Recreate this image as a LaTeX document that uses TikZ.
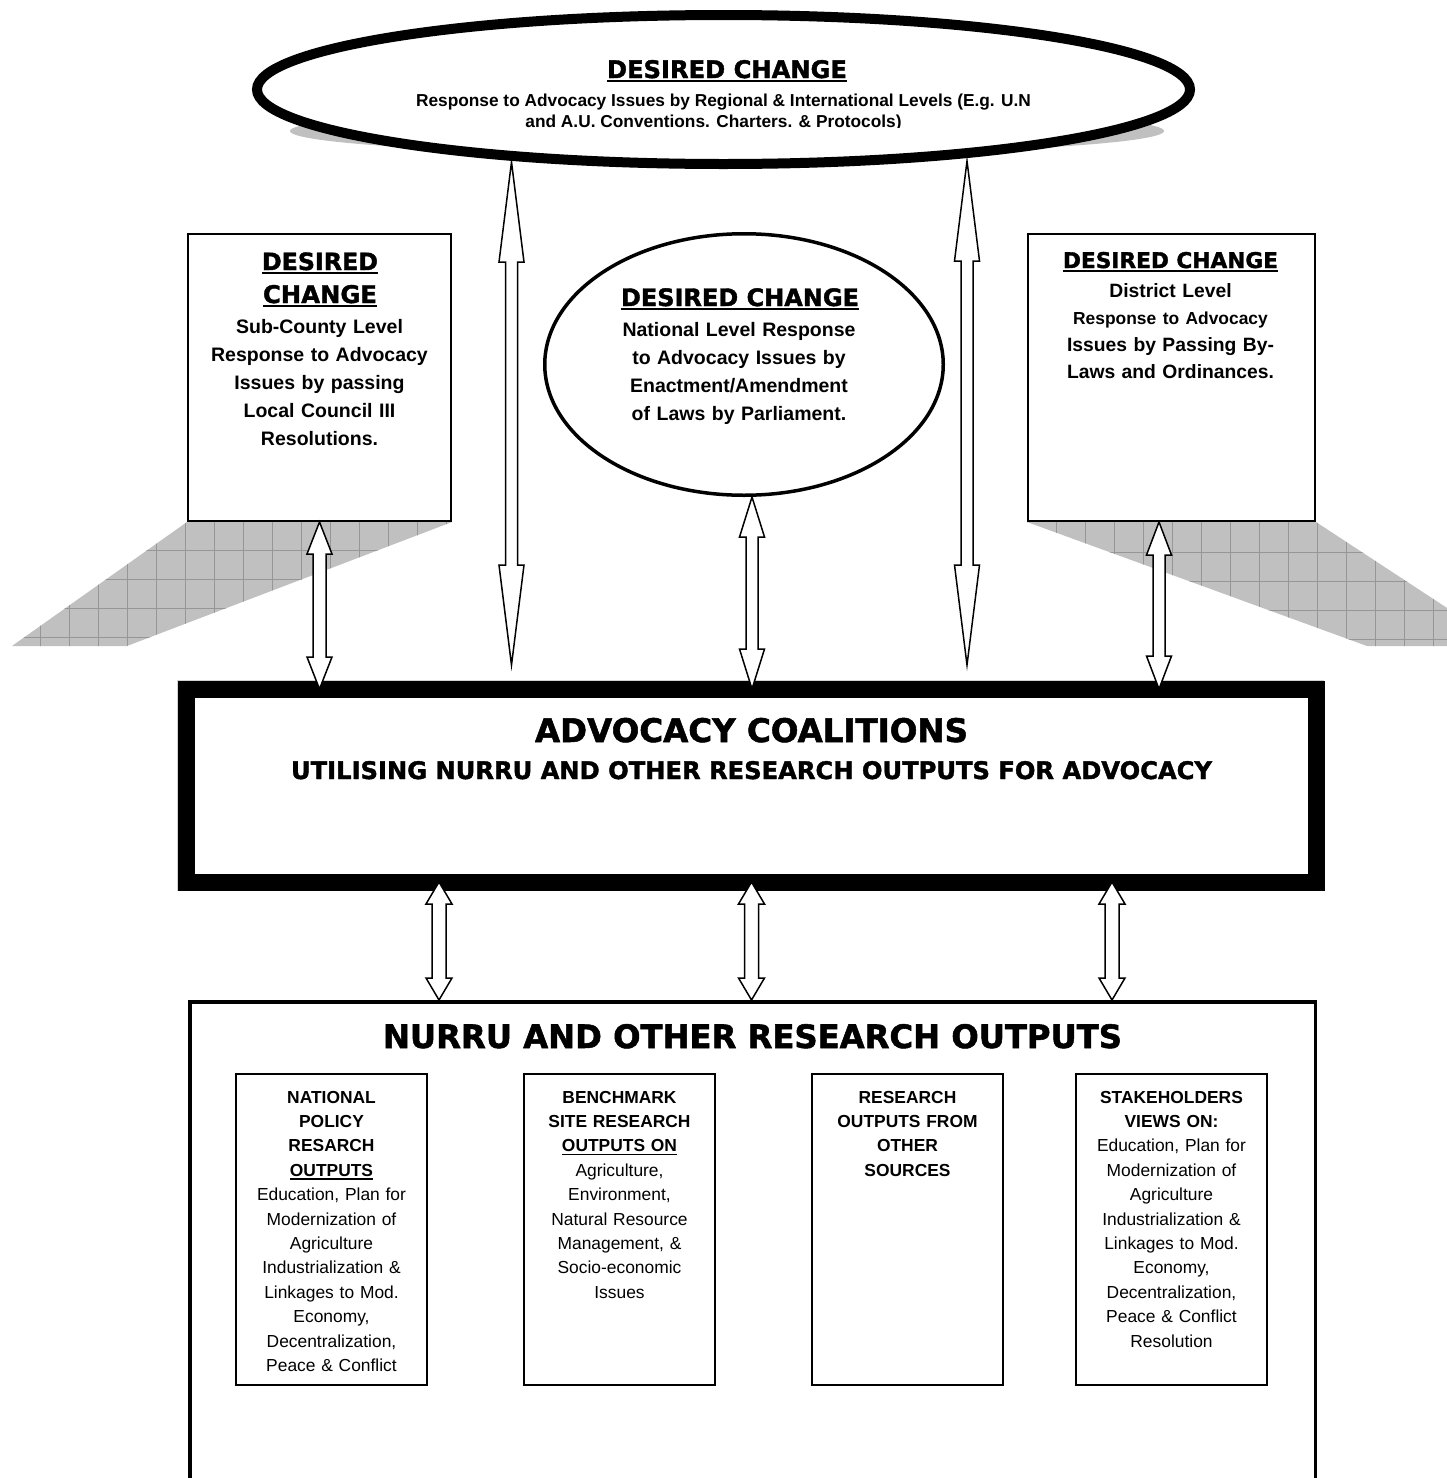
\documentclass[tikz,border=0pt]{standalone}
\usepackage{fontspec}
\usepackage{graphicx}
\setmainfont{Liberation Sans}
\newfontfamily\heavy{DejaVu Sans}[BoldFeatures={FakeBold=1.6}]
\usetikzlibrary{shapes.geometric,calc}

\definecolor{shadowgray}{RGB}{192,192,192}
\definecolor{gridgray}{RGB}{150,150,150}

% underlined text with a rule placed just below the baseline
\newsavebox\undlbox
\newcommand\undl[1]{\leavevmode\sbox\undlbox{#1}\rlap{\rule[-3.6pt]{\wd\undlbox}{1.7pt}}\usebox\undlbox}
% heavy heading set to a given width
\newcommand\hw[2]{\resizebox{#1pt}{!}{\heavy\bfseries #2}}
\newcommand\fs[2]{\fontsize{#1}{#2}\selectfont}

% hollow double-headed block arrow between two points (top, bottom)
% #3 head length, #4 half head width, #5 half shaft width
\newcommand\dblarrow[5]{%
  \draw[blockarrow] let \p1=(#1), \p2=(#2) in
    (\x1,\y1) -- (\x1+#4pt,\y1-#3pt) -- (\x1+#5pt,\y1-#3pt) -- (\x1+#5pt,\y2+#3pt)
    -- (\x1+#4pt,\y2+#3pt) -- (\x1,\y2) -- (\x1-#4pt,\y2+#3pt) -- (\x1-#5pt,\y2+#3pt)
    -- (\x1-#5pt,\y1-#3pt) -- (\x1-#4pt,\y1-#3pt) -- cycle;}

\begin{document}
\begin{tikzpicture}[x=1pt,y=-1pt,
  blockarrow/.style={draw=black, fill=white, line width=1.5pt, line join=miter, miter limit=12},
  dcbox/.style={rectangle, draw=black, fill=white, line width=2pt, inner sep=0pt},
  coalbox/.style={rectangle, draw=black, fill=white, line width=17pt, inner sep=0pt, outer sep=0pt},
  outbox/.style={rectangle, draw=black, fill=white, line width=3.5pt, inner sep=0pt},
  subbox/.style={rectangle, draw=black, fill=white, line width=2pt, inner sep=0pt,
                 minimum width=191pt, minimum height=311pt},
  txt/.style={inner sep=0pt, align=center, anchor=base},
  bodybig/.style={txt, font=\bfseries\fs{19.5}{28}},
  bodysmall/.style={txt, text width=190pt, font=\fs{17.4}{24.4}},
  gridline/.style={draw=gridgray, line width=0.8pt},
]
\useasboundingbox (0,0) rectangle (1447,1478);
\clip (0,0) rectangle (1447,1478);
\fill[white] (0,0) rectangle (1447,1478);

% ---------- projected shadows under the two side boxes ----------
\fill[shadowgray] (187,522) -- (452,522) -- (127,646) -- (12,646) -- cycle;
\begin{scope}
  \clip (187,522) -- (452,522) -- (127,646) -- (12,646) -- cycle;
  \foreach \gx in {11,40,...,460} \draw[gridline] (\gx,515) -- (\gx,650);
  \foreach \gy in {550,579,608,637} \draw[gridline] (0,\gy) -- (460,\gy);
\end{scope}
\fill[shadowgray] (1027,522) -- (1316,522) -- (1505,646) -- (1367,646) -- cycle;
\begin{scope}
  \clip (1027,522) -- (1316,522) -- (1505,646) -- (1367,646) -- cycle;
  \foreach \gx in {1027,1056,...,1510} \draw[gridline] (\gx,515) -- (\gx,650);
  \foreach \gy in {552,581,610,639} \draw[gridline] (1000,\gy) -- (1510,\gy);
\end{scope}

% ---------- top ellipse: regional & international level ----------
\fill[shadowgray] (727,131) ellipse [x radius=437, y radius=24];
\node[ellipse, draw=black, fill=white, line width=10pt, inner sep=0pt,
      minimum width=933pt, minimum height=149pt] (intl) at (723.5,89.5) {};
\node[txt] (intl-head) at (727,78) {\undl{\hw{240}{DESIRED CHANGE}}};
\node[txt, font=\bfseries\fs{17.3}{19}] (intl-l1) at (723.5,106) {Response to Advocacy Issues by Regional \& International Levels (E.g. U.N};
\begin{scope}
  \clip (0,0) rectangle (1447,127);
  \node[txt, font=\bfseries\fs{17.3}{19}] (intl-l2) at (713.5,127) {and A.U. Conventions. Charters. \& Protocols)};
\end{scope}

% ---------- sub-county box ----------
\node[dcbox, minimum width=263pt, minimum height=287pt] (subcounty) at (319.5,377.5) {};
\node[txt, text width=260pt, font=\fs{20}{33}] (subcounty-head) at (320,270)
  {\undl{\hw{116}{DESIRED}}\\\undl{\hw{114}{CHANGE}}};
\node[bodybig, text width=260pt] (subcounty-body) at (319.5,333)
  {Sub-County Level\\Response to Advocacy\\Issues by passing\\Local Council III\\Resolutions.};

% ---------- national ellipse ----------
\node[ellipse, draw=black, fill=white, line width=3.5pt, inner sep=0pt,
      minimum width=398.5pt, minimum height=261.5pt] (national) at (744,364.5) {};
\node[txt] (national-head) at (740,306) {\undl{\hw{238}{DESIRED CHANGE}}};
\node[bodybig, text width=300pt] (national-body) at (739,336)
  {National Level Response\\to Advocacy Issues by\\Enactment/Amendment\\of Laws by Parliament.};

% ---------- district box ----------
\node[dcbox, minimum width=287pt, minimum height=287pt] (district) at (1171.5,377.5) {};
\node[txt] (district-head) at (1170.5,268) {\undl{\hw{215}{DESIRED CHANGE}}};
\node[txt, text width=280pt, font=\bfseries\fs{19.3}{27}] (district-body) at (1170.5,297)
  {District Level\\{\fs{17.4}{27}Response to Advocacy}\\Issues by Passing By-\\Laws and Ordinances.};

% ---------- advocacy coalitions ----------
\draw[gray!35, line width=17pt] (185,688) rectangle (1315,882);
\node[coalbox, minimum width=1130pt, minimum height=193pt] (coal) at (751.5,785.5) {};
\node[txt] (coal-head) at (751.5,742) {\hw{433}{ADVOCACY COALITIONS}};
\node[txt] (coal-sub) at (751.5,779) {\hw{921}{UTILISING NURRU AND OTHER RESEARCH OUTPUTS FOR ADVOCACY}};

% ---------- research outputs ----------
\node[outbox, minimum width=1125.5pt, minimum height=560pt, anchor=north] (outputs) at (752.5,1000) {};
\node[txt] (outputs-head) at (752.5,1048) {\hw{739}{NURRU AND OTHER RESEARCH OUTPUTS}};

\node[subbox] (policy) at (331.5,1229.5) {};
\node[subbox] (bench) at (619.5,1229.5) {};
\node[subbox] (other) at (907.5,1229.5) {};
\node[subbox] (stake) at (1171.5,1229.5) {};

\node[bodysmall] (policy-text) at (331.5,1103)
  {\textbf{NATIONAL}\\\textbf{POLICY}\\\textbf{RESARCH}\\\undl{\textbf{OUTPUTS}}\\
   Education, Plan for\\Modernization of\\Agriculture\\Industrialization \&\\Linkages to Mod.\\Economy,\\Decentralization,\\Peace \& Conflict};
\node[bodysmall] (bench-text) at (619.5,1103)
  {\textbf{BENCHMARK}\\\textbf{SITE RESEARCH}\\\undl{\textbf{OUTPUTS ON}}\\
   Agriculture,\\Environment,\\Natural Resource\\Management, \&\\Socio-economic\\Issues};
\node[bodysmall, font=\bfseries\fs{17.4}{24.4}] (other-text) at (907.5,1103)
  {RESEARCH\\OUTPUTS FROM\\OTHER\\SOURCES};
\node[bodysmall] (stake-text) at (1171.5,1103)
  {\textbf{STAKEHOLDERS}\\\textbf{VIEWS ON:}\\
   Education, Plan for\\Modernization of\\Agriculture\\Industrialization \&\\Linkages to Mod.\\Economy,\\Decentralization,\\Peace \& Conflict\\Resolution};

% ---------- connectors ----------
\coordinate (bigL-top) at (511.5,162);
\coordinate (bigL-bot) at (511.5,665);
\coordinate (bigR-top) at (967,161);
\coordinate (bigR-bot) at (967,665);
\dblarrow{bigL-top}{bigL-bot}{100}{12.5}{6}
\dblarrow{bigR-top}{bigR-bot}{100}{12.5}{6}

\dblarrow{subcounty.south}{subcounty.south |- coal.north}{32}{12.5}{6.5}
\dblarrow{[xshift=8pt]national.south}{[xshift=8pt]national.south |- coal.north}{40}{12.5}{6}
\dblarrow{[xshift=-12.5pt]district.south}{[xshift=-12.5pt]district.south |- coal.north}{33}{12.5}{6}

\coordinate (low-a) at (439,0);
\coordinate (low-b) at (751.5,0);
\coordinate (low-c) at (1112,0);
\dblarrow{low-a |- coal.south}{low-a |- outputs.north}{22}{13}{7}
\dblarrow{low-b |- coal.south}{low-b |- outputs.north}{22}{13}{7}
\dblarrow{low-c |- coal.south}{low-c |- outputs.north}{22}{13}{7}
\end{tikzpicture}
\end{document}
